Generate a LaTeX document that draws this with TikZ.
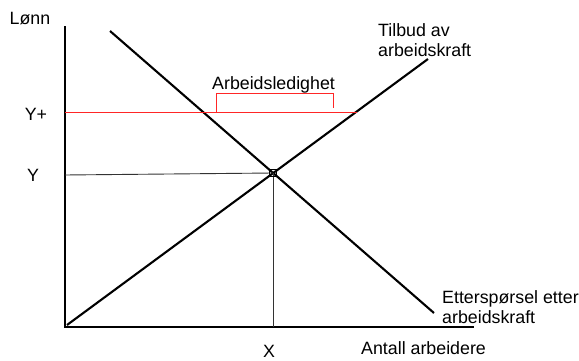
\documentclass[tikz,border=0pt]{standalone}
\usepackage{fontspec}
\setmainfont{Liberation Sans}
\usetikzlibrary{calc}
\begin{document}
\begin{tikzpicture}[x=1pt,y=-1pt,
  lbl/.style={inner sep=0pt,font=\fontsize{17.8}{20}\selectfont,align=left},
  axis/.style={line width=2.6pt},
  curve/.style={line width=2.1pt},
  guide/.style={line width=0.9pt,black!80},
  redl/.style={line width=1pt,red!85!white}]
\useasboundingbox (0,0) rectangle (579,361);
% axes
\coordinate (O) at (65,327);
\coordinate (ytop) at (65,27);
\coordinate (xend) at (473,327);
\draw[axis,line cap=rect] (ytop) -- (O) -- (xend);
% curves
\coordinate (s1) at (67,325);
\coordinate (s2) at (428,59);
\coordinate (d1) at (110,31);
\coordinate (d2) at (434,313);
\draw[curve] (s1) -- (s2);
\draw[curve] (d1) -- (d2);
% equilibrium
\coordinate (E) at (273,173);
\coordinate (Yax) at (65,175);
\coordinate (Xax) at (273,327);
\draw[guide] (Yax) -- (E);
\draw[guide] (E) -- (Xax);
\draw[line width=1.3pt] ($(E)+(-3.5,-3.5)$) rectangle ($(E)+(3.5,3.5)$);
% red line and bracket
\coordinate (R1) at (65,113);
\coordinate (R2) at (357,113);
\draw[redl] (R1) -- (R2);
\coordinate (B1) at (216,113);
\coordinate (B2) at (216,94);
\coordinate (B3) at (333,94);
\coordinate (B4) at (333,108);
\draw[redl] (B1) -- (B2) -- (B3) -- (B4);
% labels
\node[lbl,anchor=base] (lonn) at (30,25) {Lønn};
\node[lbl,anchor=base] (yplus) at (36,121) {Y+};
\node[lbl,anchor=base] (y) at (33,181) {Y};
\node[lbl,anchor=base] (x) at (269,357) {X};
\node[lbl,anchor=base west] (antall) at (361,354) {Antall arbeidere};
\node[lbl,anchor=base west] (ledig) at (212,89) {Arbeidsledighet};
\node[lbl,anchor=base west] (tilbud) at (378,37) {Tilbud av};
\node[lbl,anchor=base west] (tilbud2) at (378,57) {arbeidskraft};
\node[lbl,anchor=base west] (ettersp) at (442,303) {Etterspørsel etter};
\node[lbl,anchor=base west] (ettersp2) at (442,323) {arbeidskraft};
\end{tikzpicture}
\end{document}
